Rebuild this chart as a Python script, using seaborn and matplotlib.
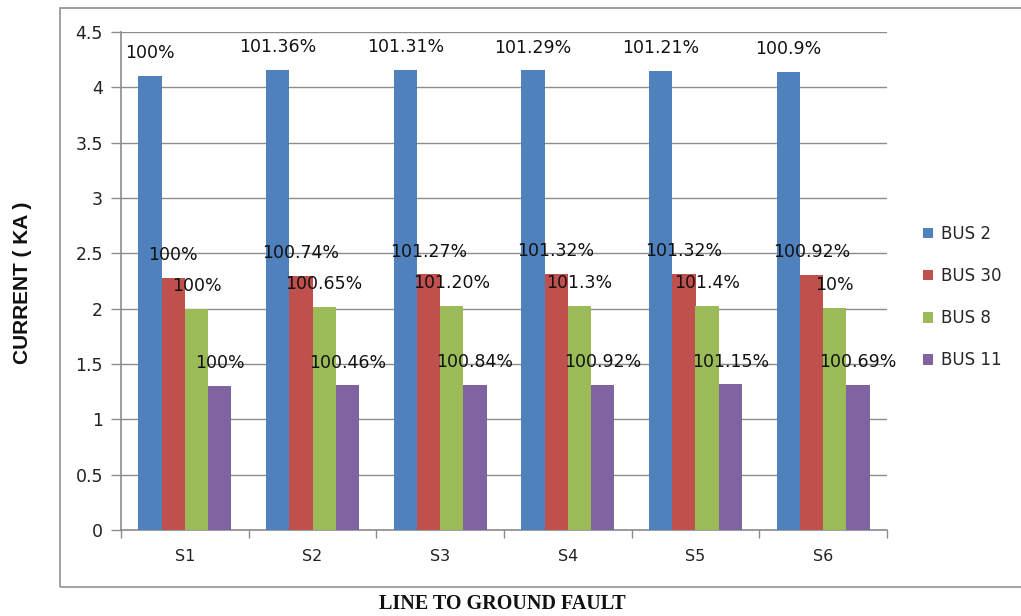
import matplotlib
matplotlib.use("Agg")
import matplotlib.pyplot as plt
from matplotlib.patches import Rectangle
import seaborn as sns
import pandas as pd

# Fault current (kA) at each bus for the six line-to-ground fault scenarios
scenarios = ["S1", "S2", "S3", "S4", "S5", "S6"]
buses = ["BUS 2", "BUS 30", "BUS 8", "BUS 11"]

bus2 = [4.100, 4.156, 4.154, 4.153, 4.150, 4.137]
bus30 = [2.280, 2.297, 2.309, 2.310, 2.310, 2.301]
bus8 = [2.000, 2.013, 2.024, 2.026, 2.028, 2.010]
bus11 = [1.300, 1.306, 1.311, 1.312, 1.315, 1.309]

# Percentage of the S1 current, printed over each bar
pct_bus2 = ["100%", "101.36%", "101.31%", "101.29%", "101.21%", "100.9%"]
pct_bus30 = ["100%", "100.74%", "101.27%", "101.32%", "101.32%", "100.92%"]
pct_bus8 = ["100%", "100.65%", "101.20%", "101.3%", "101.4%", "10%"]
pct_bus11 = ["100%", "100.46%", "100.84%", "100.92%", "101.15%", "100.69%"]

colors = ["#4F81BD", "#C0504D", "#9BBB59", "#8064A2"]
yticks = [0, 0.5, 1, 1.5, 2, 2.5, 3, 3.5, 4, 4.5]

series = {"BUS 2": bus2, "BUS 30": bus30, "BUS 8": bus8, "BUS 11": bus11}
pct = [pct_bus2, pct_bus30, pct_bus8, pct_bus11]
df = pd.DataFrame(
    [(s, b, series[b][i]) for b in buses for i, s in enumerate(scenarios)],
    columns=["scenario", "bus", "current"],
)

sns.set_style("white")
plt.rcParams["font.family"] = ["DejaVu Sans"]

W, H = 1021, 616
fig = plt.figure(figsize=(W / 100, H / 100), dpi=100)
ax = fig.add_axes([121 / W, (H - 530) / H, (887 - 121) / W, (530 - 32) / H])

sns.barplot(
    data=df, x="scenario", y="current", hue="bus",
    order=scenarios, hue_order=buses, palette=colors,
    saturation=1, width=0.73, ax=ax, linewidth=0, zorder=3,
)

grid_c = "#8C8C8C"
ax.set_ylim(0, 4.5)
ax.set_xlim(-0.5, len(scenarios) - 0.5)
ax.set_yticks(yticks)
ax.set_yticklabels([f"{v:g}" for v in yticks], fontsize=12.5, color="#222222")
ax.yaxis.grid(True, color=grid_c, linewidth=1.0, zorder=0)
ax.set_axisbelow(True)
ax.tick_params(axis="y", length=7, width=1, color=grid_c, pad=6, left=True)

# category labels at the centres, tick marks at the group boundaries
ax.set_xticks(range(len(scenarios)))
ax.set_xticklabels(scenarios, fontsize=11.5, color="#222222")
ax.tick_params(axis="x", length=0, pad=14)
ax.set_xticks([i - 0.5 for i in range(len(scenarios) + 1)], minor=True)
ax.tick_params(axis="x", which="minor", length=6, width=1, color=grid_c, bottom=True)

for side in ["top", "right"]:
    ax.spines[side].set_visible(False)
for side in ["left", "bottom"]:
    ax.spines[side].set_color(grid_c)
    ax.spines[side].set_linewidth(1.2)

ax.set_xlabel("")
ax.set_ylabel("")

for cont, labels in zip(ax.containers, pct):
    ax.bar_label(cont, labels=labels, padding=10, fontsize=12.5, color="#111111")

# legend on the right
handles, labs = ax.get_legend_handles_labels()
ax.legend(
    handles, labs, loc="center left", bbox_to_anchor=(916 / W, 1 - 297 / H),
    bbox_transform=fig.transFigure, frameon=False, fontsize=12,
    handlelength=0.6, handleheight=0.6, handletextpad=0.5, labelspacing=1.45,
    borderaxespad=0,
)

# axis titles
fig.text(23 / W, 1 - 283 / H, "CURRENT ( KA )", rotation=90, ha="center",
         va="center", fontsize=15, fontweight="bold",
         family=["Liberation Sans", "DejaVu Sans"], color="#111111")
fig.text(502 / W, 1 - 604 / H, "LINE TO GROUND FAULT", ha="center", va="center",
         fontsize=14.5, fontweight="bold",
         family=["Liberation Serif", "DejaVu Serif"], color="#111111")

# chart-area border
fig.patches.append(Rectangle((60 / W, (H - 587) / H), 1.2, (587 - 8) / H,
                             transform=fig.transFigure, fill=False,
                             edgecolor="#9A9A9A", linewidth=1.3, zorder=0))

fig.savefig("out.png", dpi=100, facecolor="white")
